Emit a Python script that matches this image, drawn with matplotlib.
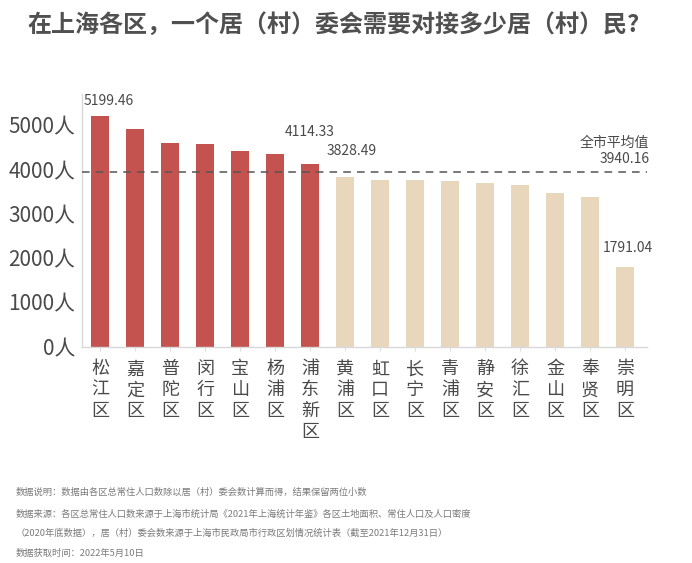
import matplotlib
matplotlib.use("Agg")
import matplotlib.pyplot as plt

plt.rcParams['font.family'] = ['Noto Sans CJK SC', 'DejaVu Sans']

districts = ["松江区", "嘉定区", "普陀区", "闵行区", "宝山区", "杨浦区", "浦东新区",
             "黄浦区", "虹口区", "长宁区", "青浦区", "静安区", "徐汇区", "金山区", "奉贤区", "崇明区"]
values = [5199.46, 4914, 4605, 4576, 4424, 4357, 4114.33,
          3828.49, 3770, 3765, 3750, 3700, 3650, 3470, 3370, 1791.04]
above_avg = [True] * 7 + [False] * 9
city_avg = 3940.16
yticks = [0, 1000, 2000, 3000, 4000, 5000]
labelled = {0: (6, 6), 6: (0, 18), 7: (5, 14), 15: (2, 9)}

title = "在上海各区，一个居（村）委会需要对接多少居（村）民?"
notes = [
    "数据说明：数据由各区总常住人口数除以居（村）委会数计算而得，结果保留两位小数",
    "数据来源：各区总常住人口数来源于上海市统计局《2021年上海统计年鉴》各区土地面积、常住人口及人口密度",
    "（2020年底数据），居（村）委会数来源于上海市民政局市行政区划情况统计表（截至2021年12月31日）",
    "数据获取时间：2022年5月10日",
]

RED = "#c4524f"
BEIGE = "#e9d7bd"
TXT = "#4a4a4a"

fig = plt.figure(figsize=(6.92, 5.63), dpi=100)
ax = fig.add_axes([0.1185, 0.3845, 0.935 - 0.1185, 0.8327 - 0.3845])

x = list(range(len(districts)))
colors = [RED if a else BEIGE for a in above_avg]
ax.bar(x, values, width=0.5, color=colors, zorder=2)

ax.axhline(city_avg, color="#555555", lw=1.1, ls=(0, (5, 4)), zorder=3)
ax.text(15.7, city_avg + 140, "全市平均值\n" + f"{city_avg:.2f}", ha="right", va="bottom",
        fontsize=10, color=TXT, linespacing=1.2)

for i, (dx, dy) in labelled.items():
    ax.annotate(f"{values[i]:.2f}", (x[i], values[i]), xytext=(dx, dy), textcoords="offset points",
                ha="center", va="bottom", fontsize=10, color=TXT)

ax.set_xlim(-0.52, 15.63)
ax.set_ylim(0, 5700)
ax.set_yticks(yticks)
ax.set_yticklabels([f"{v}人" for v in yticks], fontsize=15, color=TXT)
ax.set_xticks(x)
ax.set_xticklabels(["\n".join(d) for d in districts], fontsize=13, color=TXT, linespacing=1.2)
ax.tick_params(axis="y", length=0, pad=5)
ax.tick_params(axis="x", length=3, color="#dddddd", pad=7)

for s in ["top", "right"]:
    ax.spines[s].set_visible(False)
for s in ["left", "bottom"]:
    ax.spines[s].set_color("#d8d8d8")
    ax.spines[s].set_linewidth(1)

fig.text(0.039, 0.955, title, fontsize=17.3, fontweight="bold", color="#505050", ha="left", va="center")

ys = [492, 514, 533, 553]
for t, yy in zip(notes, ys):
    fig.text(0.023, 1 - yy / 563, t, fontsize=6.7, color="#7a7a7a", ha="left", va="center")

fig.savefig("out.png", dpi=100, facecolor="white")
